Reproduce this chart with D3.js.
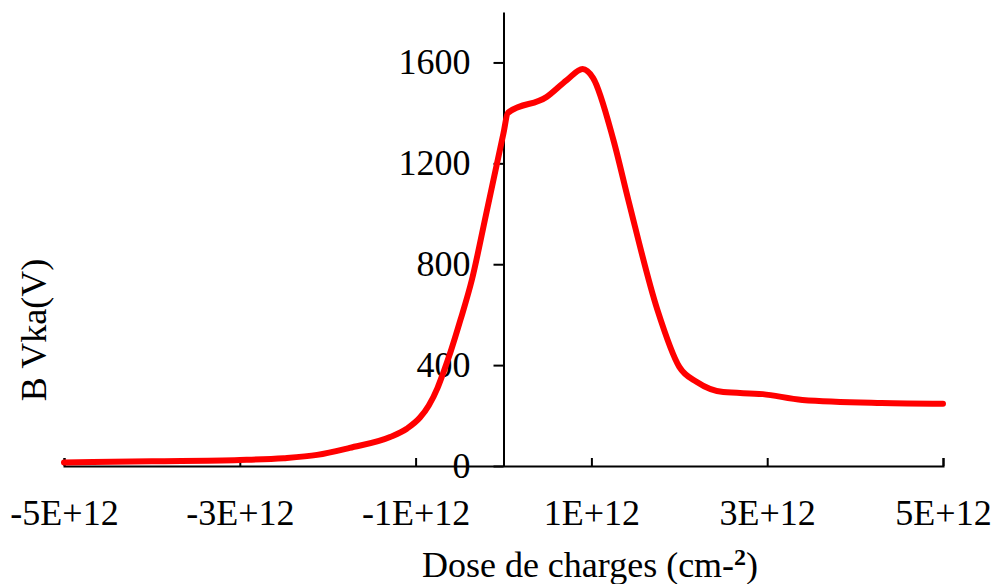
<!DOCTYPE html>
<html>
    <head>
        <meta charset="UTF-8">
        <title>BVka vs dose</title>
        <script src="https://cdn.jsdelivr.net/npm/d3@7/dist/d3.min.js" type="text/javascript"></script>
        <style>
            body { margin: 0; background: #fff; }
            .axis text {
                fill: #000;
                font-family: "Liberation Serif", "Times New Roman", serif;
                font-size: 36px;
            }
            .axis path, .axis line {
                stroke: #000;
                stroke-width: 2px;
            }
            .title {
                font-family: "Liberation Serif", "Times New Roman", serif;
                font-size: 36px;
                fill: #000;
            }
        </style>
    </head>
    <body>
        <svg id="svg"></svg>

        <script>
            var WIDTH = 998;
            var HEIGHT = 584;

            // Dose (in units of 1E+12 cm-2) and breakdown voltage (V)
            var doses = [-5, -4, -3, -2.5, -2.12, -1.75, -1.29, -1.1, -0.95, -0.85, -0.75, -0.69, -0.6, -0.49,
                         -0.36, -0.2, 0, 0.05, 0.49, 0.72, 0.9, 1.02, 1.25, 1.42,
                         1.75, 2.0, 2.2, 2.5, 2.95, 3.4, 4.3, 5];
            var bvka = [14, 19, 24, 31, 44, 72, 115, 148, 192, 240, 310, 365, 455, 579,
                        738, 995, 1320, 1400, 1463, 1530, 1574, 1538, 1293, 1055,
                        620, 393, 333, 293, 285, 262, 250, 247];

            var xTicks = [-5e12, -3e12, -1e12, 1e12, 3e12, 5e12];
            var yTicks = [0, 400, 800, 1200, 1600];

            var data = doses.map(function(d, i){
                return [d * 1e12, bvka[i]];
            });

            var svg = d3.select('#svg')
                        .attr('width', WIDTH)
                        .attr('height', HEIGHT);

            var xScale = d3.scaleLinear()
                           .domain([-5e12, 5e12])
                           .range([64, 943]);
            var yScale = d3.scaleLinear()
                           .domain([0, 1800])
                           .range([466, 12]);

            // x axis: ticks pointing up into the plot
            var xAxis = d3.axisBottom(xScale)
                          .tickValues(xTicks)
                          .tickSizeInner(-8)
                          .tickSizeOuter(-8)
                          .tickPadding(33)
                          .tickFormat(function(d){ return (d / 1e12) + 'E+12'; });

            svg.append('g')
               .attr('class', 'axis')
               .attr('transform', 'translate(0,' + yScale(0) + ')')
               .call(xAxis);

            // y axis sits on dose = 0
            var yAxis = d3.axisLeft(yScale)
                          .tickValues(yTicks)
                          .tickSizeInner(10)
                          .tickSizeOuter(0)
                          .tickPadding(23)
                          .tickFormat(d3.format('d'));

            svg.append('g')
               .attr('class', 'axis')
               .attr('transform', 'translate(' + xScale(0) + ',0)')
               .call(yAxis);

            var line = d3.line()
                         .x(function(d){ return xScale(d[0]); })
                         .y(function(d){ return yScale(d[1]); })
                         .curve(d3.curveMonotoneX);

            svg.append('path')
               .datum(data)
               .attr('d', line)
               .attr('fill', 'none')
               .attr('stroke', '#ff0000')
               .attr('stroke-width', 6)
               .attr('stroke-linecap', 'round')
               .attr('stroke-linejoin', 'round');

            // axis titles
            var xt = svg.append('text')
                        .attr('class', 'title')
                        .attr('x', 590)
                        .attr('y', 577)
                        .attr('text-anchor', 'middle');
            xt.append('tspan').text('Dose de charges (cm-');
            xt.append('tspan')
              .attr('font-size', '24px')
              .attr('font-weight', 'bold')
              .attr('dy', -12)
              .text('2');
            xt.append('tspan')
              .attr('dy', 12)
              .text(')');

            svg.append('text')
               .attr('class', 'title')
               .attr('transform', 'translate(46,330) rotate(-90)')
               .attr('text-anchor', 'middle')
               .text('B Vka(V)');
        </script>
    </body>
</html>
